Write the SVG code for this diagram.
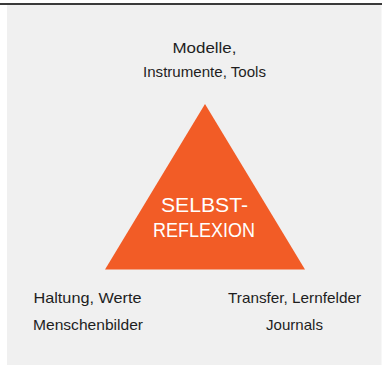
<svg xmlns="http://www.w3.org/2000/svg" width="382" height="365" viewBox="0 0 382 365">
<style>
.lbl{font-family:"Liberation Sans",Arial,sans-serif;font-size:14.5px;fill:#1e1e1e;text-anchor:middle}
.tri{font-family:"Liberation Sans",Arial,sans-serif;font-size:21px;fill:#ffffff;text-anchor:middle}
</style>
<rect x="0" y="0" width="382" height="365" fill="#ffffff"/>
<rect x="7" y="5" width="374.5" height="360" fill="#f0f0f0"/>
<rect x="0" y="3" width="382" height="2" fill="#3a3a3a"/>
<g id="triangle">
<polygon points="205,104 105,269.5 305,269.5" fill="#f25c26"/>
<text class="tri" x="204.5" y="212" textLength="87" lengthAdjust="spacingAndGlyphs">SELBST-</text>
<text class="tri" x="204" y="237" textLength="102" lengthAdjust="spacingAndGlyphs">REFLEXION</text>
</g>
<g id="top">
<text class="lbl" x="204.5" y="52.5" textLength="64" lengthAdjust="spacingAndGlyphs">Modelle,</text>
<text class="lbl" x="204.5" y="77" textLength="123" lengthAdjust="spacingAndGlyphs">Instrumente, Tools</text>
</g>
<g id="left">
<text class="lbl" x="87.5" y="303" textLength="108" lengthAdjust="spacingAndGlyphs">Haltung, Werte</text>
<text class="lbl" x="88" y="330" textLength="110" lengthAdjust="spacingAndGlyphs">Menschenbilder</text>
</g>
<g id="right">
<text class="lbl" x="294.5" y="303" textLength="133" lengthAdjust="spacingAndGlyphs">Transfer, Lernfelder</text>
<text class="lbl" x="294.5" y="330" textLength="57" lengthAdjust="spacingAndGlyphs">Journals</text>
</g>
<g id="connectors"/>
</svg>
